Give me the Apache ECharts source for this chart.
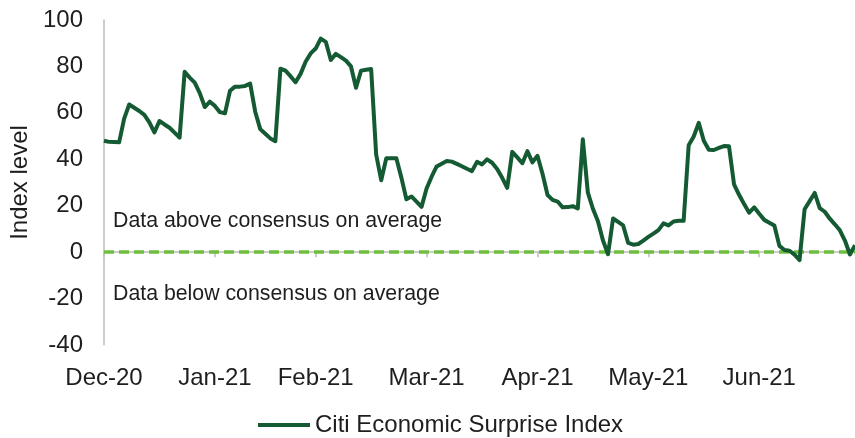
<!DOCTYPE html>
<html>
<head>
<meta charset="utf-8">
<script src="https://cdn.jsdelivr.net/npm/echarts@6/dist/echarts.min.js"></script>
<style>
  html, body { margin: 0; padding: 0; background: #ffffff; }
  #chart { width: 855px; height: 438px; }
</style>
</head>
<body>
<div id="chart"></div>
<script>
// Citi Economic Surprise Index, daily readings grouped by month
const monthLabels = ['Dec-20', 'Jan-21', 'Feb-21', 'Mar-21', 'Apr-21', 'May-21', 'Jun-21'];

const dec20 = [48.0, 47.5, 47.4, 47.3, 57.5, 63.6, 62.2, 60.8, 59.1, 55.9, 51.6, 56.5, 55.0, 53.6, 51.5, 49.3, 77.7, 75.2, 73.0, 68.5, 62.5, 64.8];
const jan21 = [63.0, 60.3, 59.8, 69.5, 71.3, 71.3, 71.6, 72.6, 60.5, 53.0, 51.0, 49.0, 47.8, 79.0, 78.2, 75.8, 73.2, 76.8, 82.0, 85.6];
const feb21 = [87.7, 92.0, 90.6, 82.8, 85.4, 84.0, 82.5, 80.0, 70.8, 78.2, 78.6, 78.9, 42.0, 31.0, 40.4, 40.4, 40.4, 32.1, 22.8, 24.0, 21.8, 19.5];
const mar21 = [27.4, 32.5, 36.9, 38.1, 39.3, 39.0, 38.0, 37.0, 35.9, 34.9, 38.9, 37.8, 40.0, 38.5, 35.8, 32.0, 27.7, 43.2, 40.8, 38.3, 43.5, 38.7];
const apr21 = [41.5, 33.8, 24.6, 22.5, 21.8, 19.3, 19.4, 19.8, 18.8, 48.6, 25.6, 18.7, 13.3, 5.0, -0.9, 14.5, 13.0, 11.5, 4.0, 3.2, 3.5, 5.0];
const may21 = [6.6, 8.0, 9.5, 12.4, 11.5, 13.2, 13.5, 13.5, 46.0, 49.8, 55.7, 48.0, 44.1, 44.0, 44.9, 45.7, 45.6, 29.2, 24.7, 20.7, 17.0, 19.3];
const jun21 = [16.5, 13.9, 12.7, 11.5, 2.7, 0.9, 0.6, -1.1, -3.4, 18.5, 22.0, 25.5, 19.0, 17.4, 14.4, 12.0, 9.4, 5.0, -1.0, 3.0];

const yTicks = { min: -40, max: 100, step: 20 };
const seriesName = 'Citi Economic Surprise Index';
const notes = ['Data above consensus on average', 'Data below consensus on average'];

// Build one category per observation: "<month>|<n>"
const byMonth = [dec20, jan21, feb21, mar21, apr21, may21, jun21];
const categories = [];
const values = [];
byMonth.forEach(function (arr, m) {
  arr.forEach(function (v, j) {
    categories.push(monthLabels[m] + '|' + (j + 1));
    values.push(v);
  });
});
const isMonthStart = function (index, value) { return /\|1$/.test(value); };

const FONT = "'Liberation Sans', Arial, sans-serif";
const TEXT = '#1e1e1e';
const AXIS_GREY = '#bdbdbd';

const chart = echarts.init(document.getElementById('chart'), null, { renderer: 'canvas' });
chart.setOption({
  animation: false,
  backgroundColor: '#ffffff',
  textStyle: { fontFamily: FONT },
  grid: { left: 104, right: 0, top: 20, bottom: 93, containLabel: false },
  legend: {
    data: [seriesName],
    left: 253,
    top: 408,
    icon: 'rect',
    itemWidth: 52,
    itemHeight: 4,
    textStyle: { fontSize: 24, color: TEXT, fontFamily: FONT }
  },
  xAxis: [
    {
      // axis through zero with month ticks
      type: 'category',
      data: categories,
      boundaryGap: false,
      position: 'bottom',
      axisLine: { show: true, onZero: true, lineStyle: { color: AXIS_GREY, width: 1.5 } },
      axisTick: { show: true, interval: isMonthStart, length: 5, lineStyle: { color: AXIS_GREY, width: 1.5 } },
      axisLabel: { show: false },
      splitLine: { show: false }
    },
    {
      // month labels along the bottom
      type: 'category',
      data: categories,
      boundaryGap: false,
      position: 'bottom',
      axisLine: { show: false, onZero: false },
      axisTick: { show: false },
      axisLabel: {
        show: true,
        interval: isMonthStart,
        formatter: function (v) { return v.split('|')[0]; },
        fontSize: 24,
        color: TEXT,
        fontFamily: FONT,
        margin: 21
      },
      splitLine: { show: false }
    }
  ],
  yAxis: {
    type: 'value',
    min: yTicks.min,
    max: yTicks.max,
    interval: yTicks.step,
    name: 'Index level',
    nameLocation: 'middle',
    nameGap: 71,
    nameTextStyle: { fontSize: 24, color: TEXT, fontFamily: FONT },
    axisLine: { show: true, lineStyle: { color: AXIS_GREY, width: 1.5 } },
    axisTick: { show: false },
    axisLabel: { fontSize: 24, color: TEXT, fontFamily: FONT, margin: 21 },
    splitLine: { show: false }
  },
  series: [
    {
      name: seriesName,
      type: 'line',
      xAxisIndex: 0,
      data: values,
      symbol: 'none',
      z: 3,
      lineStyle: { color: '#145a33', width: 4, join: 'round' },
      itemStyle: { color: '#145a33' },
      markLine: {
        silent: true,
        z: 1,
        symbol: ['none', 'none'],
        label: { show: false },
        lineStyle: { color: '#6fbf3e', type: [10, 5], width: 3.5 },
        data: [{ yAxis: 0 }]
      }
    }
  ],
  graphic: [
    {
      type: 'text',
      x: 113,
      y: 221,
      style: { text: notes[0], font: '21.3px ' + FONT, fill: TEXT, verticalAlign: 'middle', textVerticalAlign: 'middle' }
    },
    {
      type: 'text',
      x: 113,
      y: 294,
      style: { text: notes[1], font: '21.3px ' + FONT, fill: TEXT, verticalAlign: 'middle', textVerticalAlign: 'middle' }
    }
  ]
});
</script>
</body>
</html>
